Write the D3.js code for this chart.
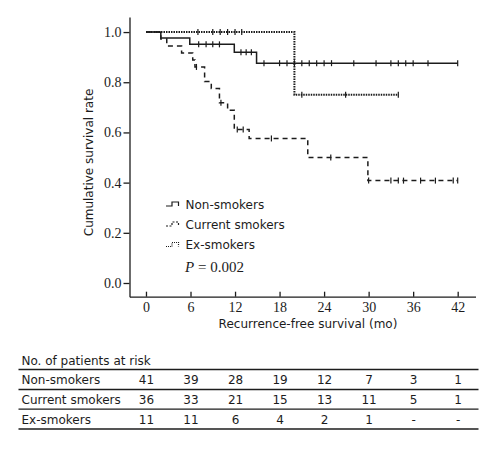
<!DOCTYPE html>
<html><head><meta charset="utf-8">
<script src="https://cdn.jsdelivr.net/npm/d3@7"></script>
<style>body{margin:0;background:#fff}svg{display:block}</style>
</head><body>
<script>
// ---- data ----
const timeTicks = [0, 6, 12, 18, 24, 30, 36, 42];
const survTicks = [0, 0.2, 0.4, 0.6, 0.8, 1.0];
const groups = ["Non-smokers", "Current smokers", "Ex-smokers"];
// step points [time, survival]
const nonSteps = [[0,1],[2,0.976],[5.9,0.951],[11.9,0.920],[14.9,0.876]];
const nonEnd = 42;
const nonCensor = [7.1,8.1,9.0,9.9,12.8,13.5,14.2,15.9,18,19,20,21,22,23,24,25,28,31,33,34,35,36,38,42];
const curSteps = [[0,1],[2,0.972],[2.8,0.944],[4.8,0.917],[6.3,0.889],[6.6,0.861],[7.9,0.803],[8.8,0.775],[9.9,0.718],[11.0,0.688],[11.9,0.612],[13.9,0.576],[21.8,0.50],[29.9,0.408]];
const curEnd = 42;
const curCensor = [6.8,10.1,12.3,13.1,16.9,24.9,30.0,33,34,34.7,37,39,41.4,42];
const exSteps = [[0,1],[20,0.75]];
const exEnd = 34;
const exCensor = [7,9,10,11,12,12.9,21,26.9,34];
const pText = "0.002";
const riskHeader = "No. of patients at risk";
const riskNon = ["41","39","28","19","12","7","3","1"];
const riskCur = ["36","33","21","15","13","11","5","1"];
const riskEx  = ["11","11","6","4","2","1","-","-"];

// ---- layout ----
const W = 501, H = 449;
const svg = d3.select("body").append("svg").attr("width", W).attr("height", H);
const ink = "#1c1c1c";
const sans = "'DejaVu Sans', Verdana, sans-serif";
const serif = "'Liberation Serif', 'Times New Roman', serif";

const x = d3.scaleLinear().domain([-2.22, 44.4]).range([129.5, 475.5]);
const y = d3.scaleLinear().domain([-0.0546, 1.06]).range([296.7, 17]);

// axes
const xAxis = svg.append("g").attr("transform", "translate(0,296.7)")
  .call(d3.axisBottom(x).tickValues(timeTicks).tickSizeInner(-5).tickSizeOuter(0).tickPadding(5).tickFormat(d3.format("d")));
const yAxis = svg.append("g").attr("transform", "translate(129.5,0)")
  .call(d3.axisLeft(y).tickValues(survTicks).tickSizeInner(6).tickSizeOuter(0).tickPadding(2).tickFormat(d3.format(".1f")));
[xAxis, yAxis].forEach(g => {
  g.selectAll("path, line").attr("stroke", ink).attr("stroke-width", 1.3);
  g.selectAll("text").attr("fill", ink).attr("font-family", serif).attr("font-size", 14);
});

svg.append("text").attr("x", 308).attr("y", 328).attr("text-anchor", "middle")
  .attr("font-family", sans).attr("font-size", 12).attr("fill", ink)
  .text("Recurrence-free survival (mo)");
svg.append("text").attr("transform", "translate(92.5,162.5) rotate(-90)").attr("text-anchor", "middle")
  .attr("font-family", sans).attr("font-size", 12).attr("fill", ink)
  .text("Cumulative survival rate");

// curves
const line = d3.line().x(d => x(d[0])).y(d => y(d[1])).curve(d3.curveStepAfter);
function survAt(steps, t){ let s = steps[0][1]; for (const p of steps) if (p[0] <= t) s = p[1]; return s; }
function drawCurve(steps, end, censor, dash, sw){
  const pts = steps.concat([[end, steps[steps.length-1][1]]]);
  svg.append("path").datum(pts).attr("d", line).attr("fill", "none")
    .attr("stroke", ink).attr("stroke-width", sw).attr("stroke-dasharray", dash);
  svg.append("g").selectAll("line").data(censor).join("line")
    .attr("x1", d => x(d)).attr("x2", d => x(d))
    .attr("y1", d => y(survAt(steps, d)) - 3).attr("y2", d => y(survAt(steps, d)) + 3)
    .attr("stroke", ink).attr("stroke-width", 1.2);
}
drawCurve(exSteps, exEnd, exCensor, "1.5,1", 2);
drawCurve(curSteps, curEnd, curCensor, "5,4", 1.5);
drawCurve(nonSteps, nonEnd, nonCensor, null, 1.5);

// legend
const legY = [204, 224, 244.5];
const legDash = [null, "2,1.5", "1,1"];
legY.forEach((ly, i) => {
  svg.append("path").attr("d", `M166,${ly+2} H172 V${ly-2} H178.5 V${ly+2}`)
    .attr("fill", "none").attr("stroke", ink).attr("stroke-width", 1.2).attr("stroke-dasharray", legDash[i]);
  svg.append("text").attr("x", 185.5).attr("y", ly + 4.5).attr("font-family", sans).attr("font-size", 12)
    .attr("fill", ink).text(groups[i]);
});
const pt = svg.append("text").attr("x", 185).attr("y", 272).attr("font-family", serif).attr("font-size", 15).attr("fill", ink);
pt.append("tspan").attr("font-style", "italic").text("P");
pt.append("tspan").text(" = " + pText);

// risk table
svg.append("text").attr("x", 21.5).attr("y", 364.5).attr("font-family", sans).attr("font-size", 12).attr("fill", ink).text(riskHeader);
const rowY = [379.5, 399.5, 419.5];
const rows = [riskNon, riskCur, riskEx];
[369.5, 389.5, 409.2, 429].forEach(ly => {
  svg.append("line").attr("x1", 18.5).attr("x2", 478.5).attr("y1", ly).attr("y2", ly).attr("stroke", ink).attr("stroke-width", 1.3);
});
rows.forEach((r, i) => {
  svg.append("text").attr("x", 21.5).attr("y", rowY[i] + 4.5).attr("font-family", sans).attr("font-size", 12).attr("fill", ink).text(groups[i]);
  svg.append("g").selectAll("text").data(r).join("text")
    .attr("x", (d, j) => x(timeTicks[j]) + 0.5).attr("y", rowY[i] + 4.5).attr("text-anchor", "middle")
    .attr("font-family", sans).attr("font-size", 12).attr("fill", ink).text(d => d);
});
</script>
</body></html>
